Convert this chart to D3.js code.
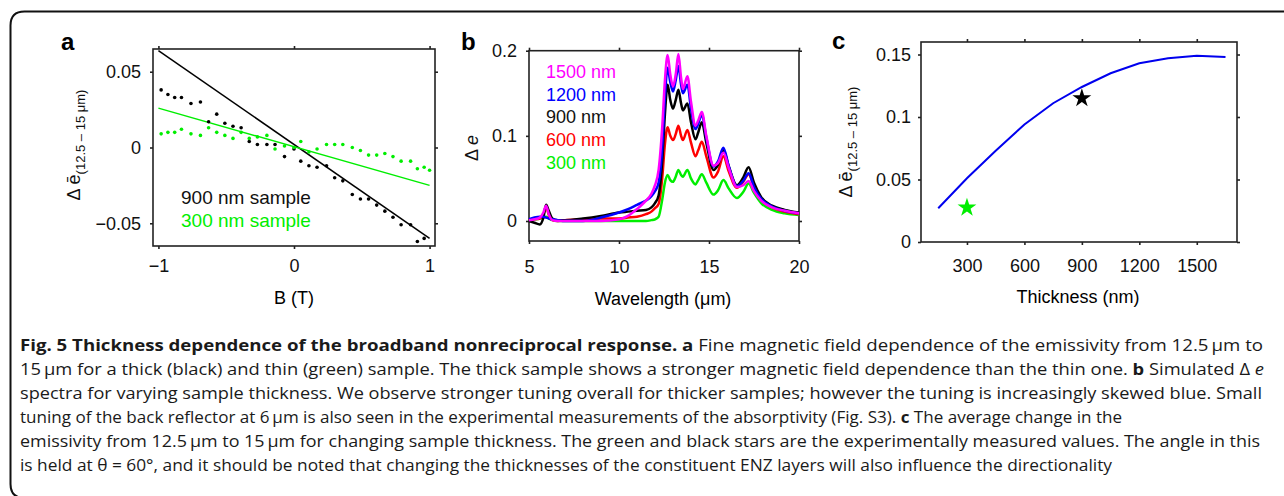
<!DOCTYPE html>
<html>
<head>
<meta charset="utf-8">
<script src="https://cdn.jsdelivr.net/npm/d3@7"></script>
<style>
  body { margin: 0; background: #fff; }
  svg text { font-family: "Liberation Sans", Arial, sans-serif; }
</style>
</head>
<body>
<svg id="fig" width="1284" height="496"></svg>
<script>
// ---- panel a : field sweep ----
var fieldBlack = [-0.98, -0.93, -0.88, -0.83, -0.76, -0.69, -0.63, -0.57, -0.51, -0.45, -0.39, -0.33, -0.27, -0.20, -0.14, -0.07, 0.0,
                  0.05, 0.11, 0.17, 0.24, 0.30, 0.36, 0.43, 0.49, 0.55, 0.61, 0.67, 0.73, 0.79, 0.86, 0.91, 0.96];
var dotsBlack = [0.038, 0.035, 0.033, 0.033, 0.029, 0.030, 0.017, 0.022, 0.016, 0.014, 0.013, 0.004, 0.002, 0.002, 0.002, -0.006, -0.001,
                 -0.009, -0.012, -0.013, -0.012, -0.020, -0.022, -0.031, -0.034, -0.034, -0.038, -0.042, -0.046, -0.051, -0.051, -0.062, -0.060];
var fieldGreen = [-0.98, -0.93, -0.88, -0.83, -0.76, -0.69, -0.63, -0.57, -0.51, -0.45, -0.39, -0.33, -0.27, -0.20, -0.14, -0.07, 0.0,
                  0.05, 0.11, 0.17, 0.24, 0.30, 0.36, 0.43, 0.49, 0.55, 0.61, 0.67, 0.73, 0.79, 0.86, 0.91, 0.96, 1.0];
var dotsGreen = [0.009, 0.010, 0.010, 0.012, 0.009, 0.008, 0.013, 0.010, 0.008, 0.006, 0.010, 0.006, 0.007, 0.008, -0.001, 0.001, 0.000,
                 0.004, -0.003, -0.001, 0.002, 0.002, 0.002, 0.000, -0.002, -0.005, -0.005, -0.004, -0.006, -0.009, -0.009, -0.014, -0.013, -0.015];
var fitField = [-1, 1];
var fitBlack = [0.064, -0.060];
var fitGreen = [0.026, -0.025];
var aTicksX = [-1, 0, 1];
var aTicksY = [-0.05, 0, 0.05];

// ---- panel b : simulated spectra ----
var wl = [5, 5.3, 5.6, 5.8, 5.95, 6.1, 6.3, 6.6, 7, 8, 9, 10, 10.5, 11, 11.5, 11.8, 12.0, 12.2, 12.4, 12.55, 12.7, 12.85, 13.0, 13.15, 13.3,
          13.45, 13.55, 13.8, 14.0, 14.25, 14.4, 14.6, 14.85, 15.25, 15.5, 15.8, 16.1, 16.55, 16.9, 17.2, 17.5, 17.9, 18.5, 19.2, 20];
var de300 = [0.002, 0.002, 0.003, 0.004, 0.005, 0.003, 0.001, 0.000, 0.000, 0.000, 0.000, 0.000, 0.000, 0.000, 0.000, 0.001, 0.002, 0.005, 0.025, 0.045, 0.054, 0.048, 0.046, 0.052, 0.060,
             0.054, 0.052, 0.060, 0.050, 0.043, 0.048, 0.055, 0.045, 0.031, 0.036, 0.048, 0.038, 0.027, 0.034, 0.044, 0.033, 0.021, 0.013, 0.009, 0.007];
var de600 = [0.001, 0.002, 0.003, 0.008, 0.016, 0.007, 0.001, 0.000, 0.001, 0.002, 0.003, 0.003, 0.004, 0.005, 0.008, 0.011, 0.015, 0.020, 0.050, 0.090, 0.110, 0.100, 0.095, 0.102, 0.112,
             0.100, 0.095, 0.107, 0.092, 0.076, 0.083, 0.093, 0.076, 0.051, 0.058, 0.076, 0.058, 0.039, 0.046, 0.055, 0.040, 0.025, 0.016, 0.011, 0.008];
var de900 = [0.000, -0.002, -0.004, 0.004, 0.019, 0.012, 0.003, 0.001, 0.001, 0.003, 0.006, 0.010, 0.011, 0.012, 0.013, 0.016, 0.021, 0.030, 0.070, 0.125, 0.160, 0.142, 0.132, 0.142, 0.154,
             0.138, 0.130, 0.138, 0.116, 0.096, 0.104, 0.116, 0.092, 0.060, 0.066, 0.083, 0.064, 0.042, 0.051, 0.063, 0.045, 0.028, 0.018, 0.013, 0.010];
var de1200 = [0.002, 0.004, 0.005, 0.005, 0.004, 0.003, 0.002, 0.001, 0.000, 0.000, 0.004, 0.010, 0.014, 0.019, 0.024, 0.029, 0.035, 0.045, 0.085, 0.145, 0.180, 0.163, 0.152, 0.165, 0.182,
              0.160, 0.150, 0.160, 0.132, 0.108, 0.114, 0.125, 0.098, 0.064, 0.070, 0.086, 0.064, 0.041, 0.047, 0.056, 0.040, 0.026, 0.017, 0.012, 0.009];
var de1500 = [0.001, 0.002, 0.004, 0.010, 0.018, 0.008, 0.001, 0.000, 0.000, 0.000, 0.000, 0.002, 0.006, 0.014, 0.024, 0.032, 0.042, 0.060, 0.110, 0.165, 0.195, 0.172, 0.158, 0.172, 0.196,
              0.168, 0.155, 0.170, 0.140, 0.112, 0.118, 0.128, 0.100, 0.065, 0.068, 0.080, 0.062, 0.040, 0.042, 0.047, 0.035, 0.024, 0.016, 0.012, 0.009];
var spectraNames = ["300 nm", "600 nm", "900 nm", "1200 nm", "1500 nm"];
var spectraColors = ["#00ee00", "#ff0000", "#000000", "#0000ff", "#ff00ff"];
var bTicksX = [5, 10, 15, 20];
var bTicksY = [0, 0.1, 0.2];

// ---- panel c : thickness dependence ----
var thickness = [150, 300, 450, 600, 750, 900, 1050, 1200, 1350, 1500, 1650];
var avgChange = [0.027, 0.051, 0.073, 0.094, 0.111, 0.124, 0.135, 0.143, 0.147, 0.149, 0.148];
var starThick = [300, 900];
var starValue = [0.0275, 0.115];
var starColors = ["#00ee00", "#000000"];
var cTicksX = [300, 600, 900, 1200, 1500];
var cTicksY = [0, 0.05, 0.1, 0.15];

var svg = d3.select("#fig");

// rounded frame around the figure
svg.append("path")
    .attr("d", "M24.5,498 Q10.5,498 10.5,484 V25.5 Q10.5,11.5 24.5,11.5 H1290")
    .attr("fill", "none").attr("stroke", "#111").attr("stroke-width", 2);

function fmt(d) { return d < 0 ? "\u2212" + Math.abs(d) : String(d); }

function drawFrame(g, x, y, xTicks, yTicks, xPad, yPad) {
  var x0 = x.range()[0], x1 = x.range()[1], y0 = y.range()[0], y1 = y.range()[1];
  g.append("g").attr("transform", "translate(0," + y0 + ")")
    .call(d3.axisBottom(x).tickValues(xTicks).tickFormat(fmt).tickSizeInner(3).tickSizeOuter(0).tickPadding(xPad));
  g.append("g").attr("transform", "translate(0," + y1 + ")")
    .call(d3.axisTop(x).tickValues(xTicks).tickFormat("").tickSizeInner(3).tickSizeOuter(0));
  g.append("g").attr("transform", "translate(" + x0 + ",0)")
    .call(d3.axisLeft(y).tickValues(yTicks).tickFormat(fmt).tickSizeInner(3).tickSizeOuter(0).tickPadding(yPad));
  g.append("g").attr("transform", "translate(" + x1 + ",0)")
    .call(d3.axisRight(y).tickValues(yTicks).tickFormat("").tickSizeInner(3).tickSizeOuter(0));
  g.selectAll(".domain").remove();
  g.selectAll(".tick line").attr("stroke", "#222").attr("stroke-width", 1.6);
  g.selectAll(".tick text").attr("font-size", 18).attr("fill", "#111")
    .attr("font-family", "Liberation Sans, Arial, sans-serif");
  g.append("rect").attr("x", x0).attr("y", y1).attr("width", x1 - x0).attr("height", y0 - y1)
    .attr("fill", "none").attr("stroke", "#222").attr("stroke-width", 1.6);
}

function panelLetter(t, x, y) {
  svg.append("text").attr("x", x).attr("y", y).attr("font-size", 24).attr("font-weight", "bold").text(t);
}

function deltaLabel(x, y, bar) {
  var t = svg.append("text").attr("transform", "translate(" + x + "," + y + ") rotate(-90)")
      .attr("text-anchor", "middle").attr("font-size", 18).attr("fill", "#111");
  t.append("tspan").text("\u0394 " + (bar ? "\u0113" : ""));
  t.append("tspan").attr("dy", 5).attr("font-size", 13).text("(12.5 \u2013 15 \u03bcm)");
}

// ---------------- panel a ----------------
var xa = d3.scaleLinear().domain([-1.04, 1.04]).range([153, 435]);
var ya = d3.scaleLinear().domain([-0.065, 0.065]).range([246, 49]);
var ga = svg.append("g");
drawFrame(ga, xa, ya, aTicksX, aTicksY, 10, 9);

var fitLine = d3.line().x(function(d) { return xa(d[0]); }).y(function(d) { return ya(d[1]); });
ga.append("path").datum(d3.zip(fitField, fitBlack)).attr("d", fitLine)
  .attr("fill", "none").attr("stroke", "#000").attr("stroke-width", 1.5);
ga.append("path").datum(d3.zip(fitField, fitGreen)).attr("d", fitLine)
  .attr("fill", "none").attr("stroke", "#00ee00").attr("stroke-width", 1.5);

ga.selectAll(".dotB").data(d3.zip(fieldBlack, dotsBlack)).enter().append("circle")
  .attr("cx", function(d) { return xa(d[0]); }).attr("cy", function(d) { return ya(d[1]); })
  .attr("r", 1.8).attr("fill", "#000");
ga.selectAll(".dotG").data(d3.zip(fieldGreen, dotsGreen)).enter().append("circle")
  .attr("cx", function(d) { return xa(d[0]); }).attr("cy", function(d) { return ya(d[1]); })
  .attr("r", 1.8).attr("fill", "#00ee00");

ga.append("text").attr("x", 181).attr("y", 204).attr("font-size", 19).attr("fill", "#111").text("900 nm sample");
ga.append("text").attr("x", 181).attr("y", 227).attr("font-size", 19).attr("fill", "#00ee00").text("300 nm sample");
svg.append("text").attr("x", 294).attr("y", 304).attr("text-anchor", "middle").attr("font-size", 18).text("B (T)");
deltaLabel(80, 145, true);
panelLetter("a", 61, 50);

// ---------------- panel b ----------------
var xb = d3.scaleLinear().domain([5, 20]).range([529, 799]);
var yb = d3.scaleLinear().domain([-0.0235, 0.2]).range([241, 50.7]);
var gb = svg.append("g");
drawFrame(gb, xb, yb, bTicksX, bTicksY, 16, 9);

var spectra = [de300, de600, de900, de1200, de1500];
var specLine = d3.line().curve(d3.curveMonotoneX)
    .x(function(d) { return xb(d[0]); }).y(function(d) { return yb(d[1]); });
spectra.forEach(function(s, i) {
  gb.append("path").datum(d3.zip(wl, s)).attr("d", specLine)
    .attr("fill", "none").attr("stroke", spectraColors[i]).attr("stroke-width", 2.5)
    .attr("stroke-linejoin", "round");
});
// legend, thickest first
for (var i = spectraNames.length - 1; i >= 0; i--) {
  var row = spectraNames.length - 1 - i;
  gb.append("text").attr("x", 546).attr("y", 78 + row * 22.7).attr("font-size", 18)
    .attr("fill", spectraColors[i] === "#000000" ? "#111" : spectraColors[i]).text(spectraNames[i]);
}
svg.append("text").attr("x", 663).attr("y", 305).attr("text-anchor", "middle").attr("font-size", 18)
  .text("Wavelength (\u03bcm)");
var tb = svg.append("text").attr("transform", "translate(478,148) rotate(-90)")
  .attr("text-anchor", "middle").attr("font-size", 18).attr("fill", "#111");
tb.append("tspan").text("\u0394 ");
tb.append("tspan").attr("font-style", "italic").text("e");
panelLetter("b", 461, 50);

// ---------------- panel c ----------------
var xc = d3.scaleLinear().domain([60, 1710]).range([921, 1237]);
var yc = d3.scaleLinear().domain([0, 0.16]).range([242, 42]);
var gc = svg.append("g");
drawFrame(gc, xc, yc, cTicksX, cTicksY, 14, 7);

gc.append("path").datum(d3.zip(thickness, avgChange))
  .attr("d", d3.line().x(function(d) { return xc(d[0]); }).y(function(d) { return yc(d[1]); }))
  .attr("fill", "none").attr("stroke", "#0000ee").attr("stroke-width", 2);
gc.selectAll(".star").data(d3.zip(starThick, starValue, starColors)).enter().append("path")
  .attr("d", d3.symbol().type(d3.symbolStar).size(110))
  .attr("transform", function(d) { return "translate(" + xc(d[0]) + "," + yc(d[1]) + ")"; })
  .attr("fill", function(d) { return d[2]; });
svg.append("text").attr("x", 1078).attr("y", 303).attr("text-anchor", "middle").attr("font-size", 18)
  .text("Thickness (nm)");
deltaLabel(852, 142, true);
panelLetter("c", 832, 49);

// ---------------- caption ----------------
var captionLines = [
  [["b", "Fig. 5 Thickness dependence of the broadband nonreciprocal response. a"], ["n", " Fine magnetic field dependence of the emissivity from 12.5\u2009\u00b5m to"]],
  [["n", "15\u2009\u00b5m for a thick (black) and thin (green) sample. The thick sample shows a stronger magnetic field dependence than the thin one. "], ["b", "b"], ["n", " Simulated \u0394 "], ["i", "e"]],
  [["n", "spectra for varying sample thickness. We observe stronger tuning overall for thicker samples; however the tuning is increasingly skewed blue. Small"]],
  [["n", "tuning of the back reflector at 6\u2009\u00b5m is also seen in the experimental measurements of the absorptivity (Fig. S3). "], ["b", "c"], ["n", " The average change in the"]],
  [["n", "emissivity from 12.5\u2009\u00b5m to 15\u2009\u00b5m for changing sample thickness. The green and black stars are the experimentally measured values. The angle in this"]],
  [["n", "is held at \u03b8 = 60\u00b0, and it should be noted that changing the thicknesses of the constituent ENZ layers will also influence the directionality"]]
];
var captionEnds = [1263, 1264, 1262, 1122, 1260, 1112];

captionLines.forEach(function(line, i) {
  var t = svg.append("text").attr("x", 20).attr("y", 351 + i * 24)
    .attr("font-size", 16).attr("fill", "#1a1a1a")
    .style("font-family", "'Open Sans', sans-serif")
    .attr("textLength", captionEnds[i] - 20).attr("lengthAdjust", "spacingAndGlyphs");
  line.forEach(function(seg) {
    var s = t.append("tspan").text(seg[1]);
    if (seg[0] === "b") s.attr("font-weight", "bold");
    if (seg[0] === "i") s.attr("font-style", "italic");
  });
});
</script>
</body>
</html>
